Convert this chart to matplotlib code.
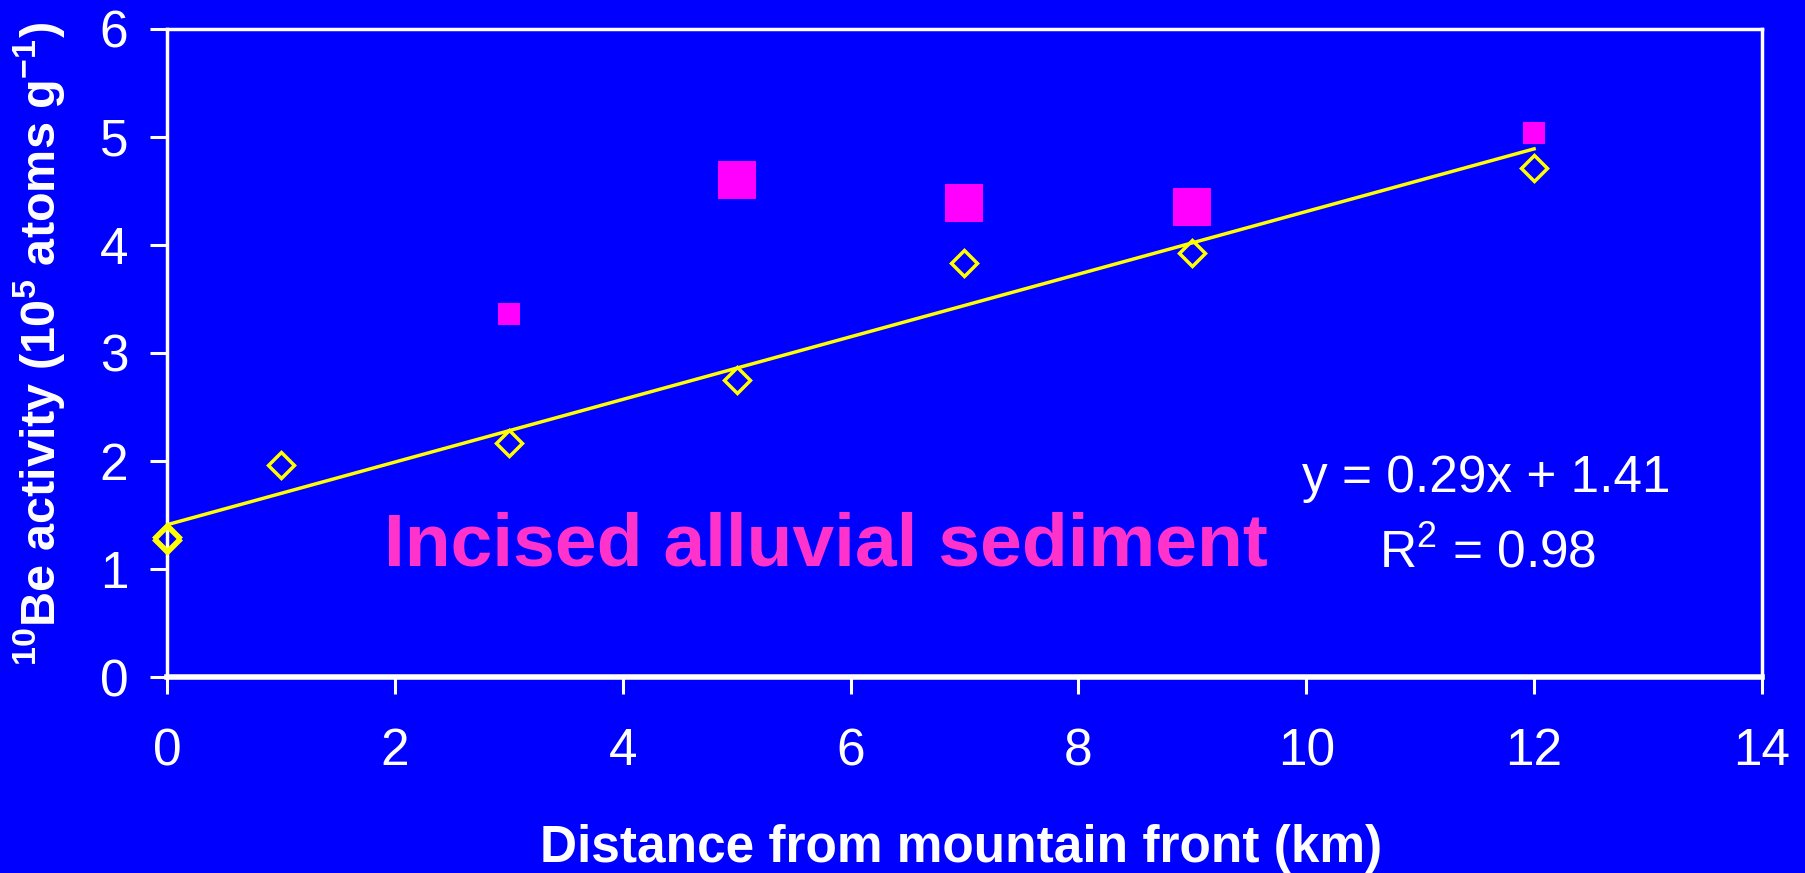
import numpy as np
import matplotlib
matplotlib.use("Agg")
import matplotlib.pyplot as plt

# incised alluvial sediment (open yellow diamonds)
dist_sed = [0, 0, 1, 3, 5, 7, 9, 12]
be_sed = [1.27, 1.30, 1.96, 2.17, 2.75, 3.83, 3.93, 4.71]

# magenta squares (two sizes)
dist_big = [5, 7, 9]
be_big = [4.60, 4.39, 4.35]
dist_small = [3, 12]
be_small = [3.36, 5.04]

# trend line as printed on the chart
slope, intercept = 0.29, 1.41
fit_x = [0, 12]

x_ticks = [0, 2, 4, 6, 8, 10, 12, 14]
y_ticks = [0, 1, 2, 3, 4, 5, 6]

BLUE = "#0000FF"
plt.rcParams["font.family"] = ["Liberation Sans", "DejaVu Sans"]
plt.rcParams["mathtext.fontset"] = "custom"
plt.rcParams["mathtext.rm"] = "Liberation Sans"
plt.rcParams["mathtext.bf"] = "Liberation Sans:bold"

fig = plt.figure(figsize=(18.06, 8.73), dpi=100, facecolor=BLUE)
ax = fig.add_axes([0.0925, 0.2245, 0.8831, 0.7423], facecolor=BLUE)

fit_y = [slope * x + intercept for x in fit_x]
ax.plot(fit_x, fit_y, color="#FFFF00", lw=2.5, zorder=2)

ax.plot(dist_sed, be_sed, ls="none", marker="D", ms=13, mfc="none",
        mec="#FFFF00", mew=2.5, zorder=3, clip_on=False)
ax.plot(dist_big, be_big, ls="none", marker="s", ms=28, mfc="#FF00FF",
        mec="#FF00FF", mew=0, zorder=3)
ax.plot(dist_small, be_small, ls="none", marker="s", ms=16.5, mfc="#FF00FF",
        mec="#FF00FF", mew=0, zorder=3)

ax.set_xlim(0, 14)
ax.set_ylim(0, 6)
ax.set_xticks(x_ticks)
ax.set_yticks(y_ticks)

for s in ax.spines.values():
    s.set_color("white")
    s.set_linewidth(2.5)
ax.spines["bottom"].set_linewidth(4)

ax.tick_params(axis="both", colors="white", length=12, width=2.2,
               direction="out", labelsize=37)
ax.tick_params(axis="x", pad=24)
ax.tick_params(axis="y", pad=16)

ax.set_xlabel("Distance from mountain front (km)", color="white",
              fontsize=37, fontweight="bold")
ax.xaxis.set_label_coords(0.498, -0.227)
ax.set_ylabel(r"$^{\mathbf{10}}$Be activity (10$^{\mathbf{5}}$ atoms g$^{\mathbf{-1}}$)",
              color="white", fontsize=35, fontweight="bold")
ax.yaxis.set_label_coords(-0.062, 0.514)

ax.text(0.413, 0.202, "Incised alluvial sediment", transform=ax.transAxes,
        color="#FF33CC", fontsize=54, fontweight="bold",
        ha="center", va="center")
ax.text(0.827, 0.307, "y = 0.29x + 1.41", transform=ax.transAxes,
        color="white", fontsize=37, ha="center", va="center")
ax.text(0.828, 0.190, r"R$^2$ = 0.98", transform=ax.transAxes,
        color="white", fontsize=37, ha="center", va="center")

fig.savefig("out.png", dpi=100, facecolor=BLUE)
